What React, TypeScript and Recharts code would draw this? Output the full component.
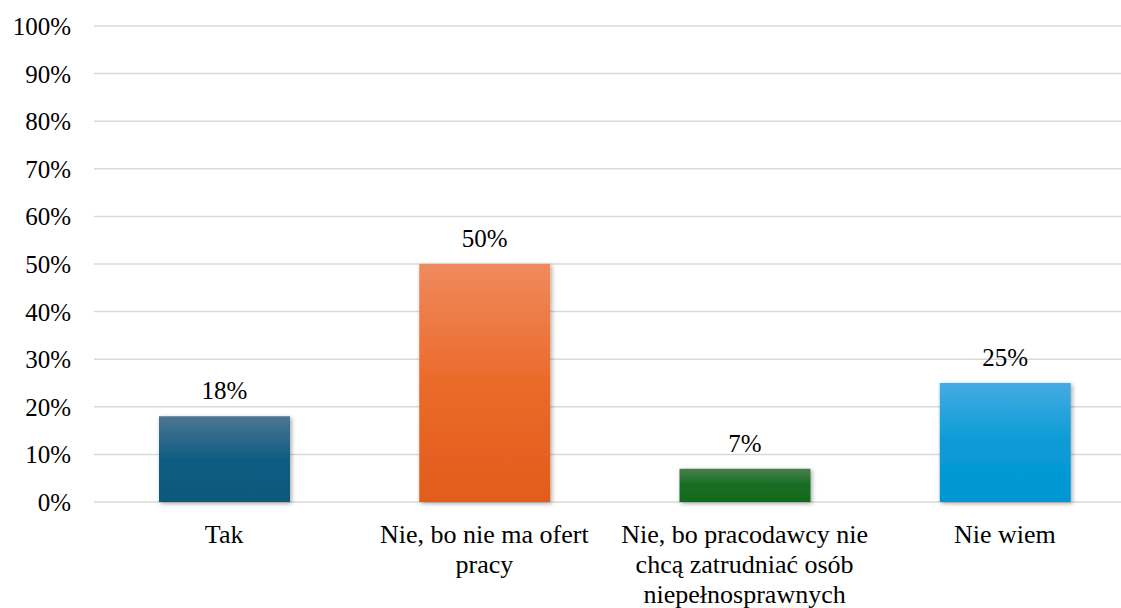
import React from 'react';
import { BarChart, Bar, XAxis, YAxis, CartesianGrid, Cell, LabelList } from 'recharts';

const categories = ['Tak', 'Nie, bo nie ma ofert pracy', 'Nie, bo pracodawcy nie chcą zatrudniać osób niepełnosprawnych', 'Nie wiem'];
const tickLines = [
  ['Tak'],
  ['Nie, bo nie ma ofert', 'pracy'],
  ['Nie, bo pracodawcy nie', 'chcą zatrudniać osób', 'niepełnosprawnych'],
  ['Nie wiem'],
];
const values = [18, 50, 7, 25];
const yTicks = [0, 10, 20, 30, 40, 50, 60, 70, 80, 90, 100];

// top / middle / bottom colour for each bar
const gradients = [
  ['#4d7592', '#115d83', '#0d587c'],
  ['#ef8a5d', '#ea6a2a', '#e25c1a'],
  ['#4c7d4e', '#156d22', '#116a1c'],
  ['#45abe1', '#0a9bd7', '#0096d3'],
];

const data = categories.map((name, i) => ({ name, value: values[i] }));

const FONT = 'Liberation Serif';

const CategoryTick = (props: any) => {
  const { x, y, index } = props;
  const lines = tickLines[index] || [];
  return (
    <text x={x} y={y} textAnchor="middle" fill="#000" style={{ fontFamily: FONT, fontSize: 26 }}>
      {lines.map((l, i) => (
        <tspan key={i} x={x} dy={i === 0 ? 33 : 30}>{l}</tspan>
      ))}
    </text>
  );
};

const PercentTick = (props: any) => {
  const { x, y, payload } = props;
  return (
    <text x={x} y={y} dy={9} textAnchor="end" fill="#000" style={{ fontFamily: FONT, fontSize: 25 }}>
      {`${payload.value}%`}
    </text>
  );
};

const PercentLabel = (props: any) => {
  const { x, y, width, value } = props;
  return (
    <text x={x + width / 2} y={y - 17} textAnchor="middle" fill="#000" style={{ fontFamily: FONT, fontSize: 25 }}>
      {`${value}%`}
    </text>
  );
};

export default function App() {
  return (
    <div style={{ position: 'absolute', left: 0, top: 0, width: 1121, height: 608, overflow: 'hidden', background: '#fff' }}>
      <BarChart
        width={1135}
        height={608}
        data={data}
        margin={{ top: 26, right: 0, bottom: 0, left: 0 }}
      >
        <defs>
          {gradients.map((g, i) => (
            <linearGradient key={i} id={`grad${i}`} x1="0" y1="0" x2="0" y2="1">
              <stop offset="0%" stopColor={g[0]} />
              <stop offset="50%" stopColor={g[1]} />
              <stop offset="100%" stopColor={g[2]} />
            </linearGradient>
          ))}
          <filter id="barShadow" x="-10%" y="-10%" width="130%" height="130%">
            <feDropShadow dx="1.5" dy="1.5" stdDeviation="2" floodColor="#000" floodOpacity="0.35" />
          </filter>
        </defs>
        <CartesianGrid vertical={false} stroke="#d9d9d9" strokeWidth={1.5} />
        <XAxis
          dataKey="name"
          axisLine={false}
          tickLine={false}
          height={106}
          interval={0}
          tick={<CategoryTick />}
        />
        <YAxis
          domain={[0, 100]}
          ticks={yTicks}
          interval={0}
          width={94}
          axisLine={false}
          tickLine={false}
          tickMargin={17}
          tick={<PercentTick />}
        />
        <Bar dataKey="value" barSize={131} isAnimationActive={false} filter="url(#barShadow)">
          {data.map((d, i) => (
            <Cell key={i} fill={`url(#grad${i})`} />
          ))}
          <LabelList dataKey="value" content={<PercentLabel />} />
        </Bar>
      </BarChart>
    </div>
  );
}
